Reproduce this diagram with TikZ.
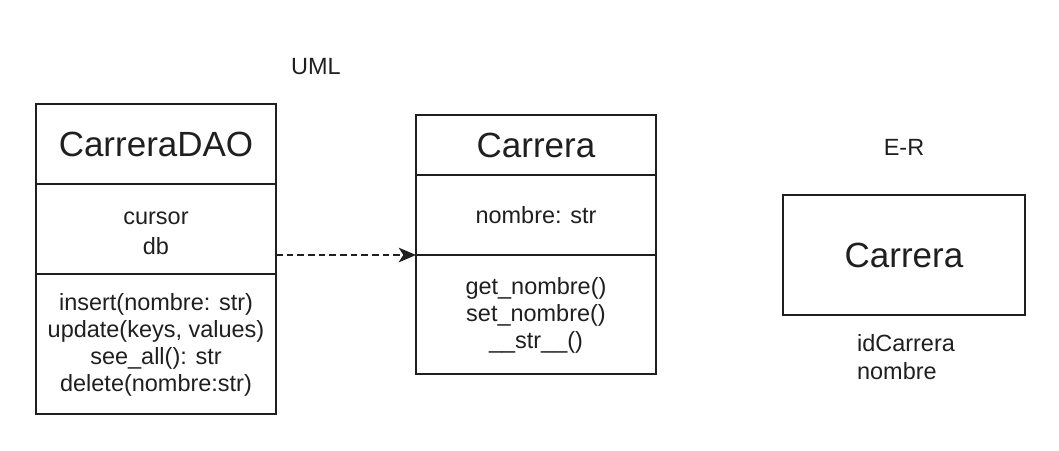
\documentclass[tikz,border=0pt]{standalone}
\usepackage{fontspec}
\setmainfont{Liberation Sans}
\usetikzlibrary{arrows.meta}
\definecolor{ink}{HTML}{1F1F1F}
\begin{document}
\begin{tikzpicture}[x=0.75pt,y=-0.75pt,
  box/.style={draw=ink, line width=1.2pt, inner sep=0pt, outer sep=0pt, minimum width=180pt, text=ink},
  titletext/.style={font=\fontsize{26.25}{30}\selectfont},
  bodytext/.style={font=\fontsize{17.6}{20.3}\selectfont, align=center},
  plain/.style={text=ink, inner sep=0pt},
  dep/.style={draw=ink, line width=1.3pt, dash pattern=on 5pt off 3pt,
    -{Stealth[length=13pt,width=11pt,inset=3.5pt]}}
]
\useasboundingbox (0,0) rectangle (1059,450);

% UML class CarreraDAO
\node[box, titletext, minimum height=60pt] (daot) at (156,144) {CarreraDAO};
\node[box, bodytext, font=\fontsize{17.6}{22.5}\selectfont, minimum height=67.5pt, anchor=north] (daoa) at (daot.south) {\strut cursor\\db};
\node[box, bodytext, minimum height=105pt, anchor=north] (daom) at (daoa.south)
  {\strut insert(nombre: str)\\update(keys, values)\\see\_all(): str\\delete(nombre:str)};

% UML class Carrera
\node[box, titletext, minimum height=45pt] (ct) at (536,145) {Carrera};
\node[box, bodytext, minimum height=60pt, anchor=north] (ca) at (ct.south) {nombre: str};
\node[box, bodytext, minimum height=89.25pt, anchor=north] (cm) at (ca.south)
  {\strut get\_nombre()\\set\_nombre()\\\_\_str\_\_()};

% dependency
\draw[dep] (daoa.east |- ca.south) -- (ca.south west);

% labels
\node[plain, bodytext] (uml) at (316,67) {UML};
\node[plain, bodytext] (er) at (904,147) {E-R};

% E-R entity
\node[box, titletext, minimum width=181.5pt, minimum height=90pt] (ent) at (904,255) {Carrera};
\node[plain, font=\fontsize{17.6}{21}\selectfont, align=left] (attrs) at (906,357) {idCarrera\\nombre};
\end{tikzpicture}
\end{document}
